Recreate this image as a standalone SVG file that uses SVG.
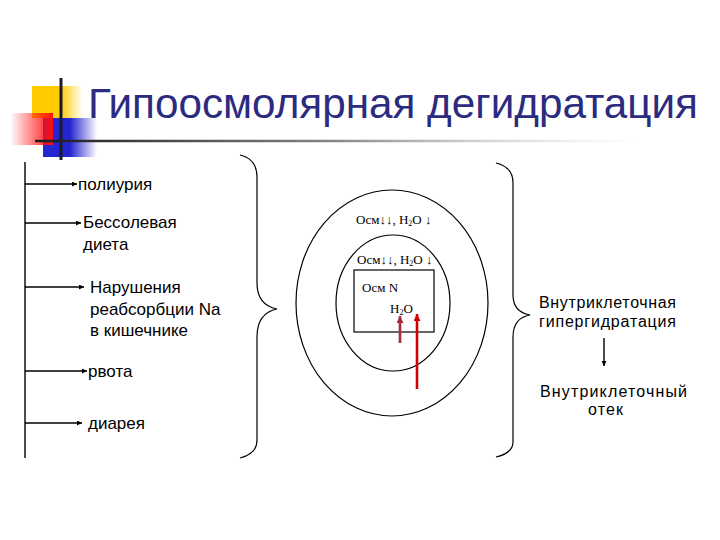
<svg xmlns="http://www.w3.org/2000/svg" width="720" height="540" viewBox="0 0 720 540">
<defs>
<style>
.t{font-family:"Liberation Sans","DejaVu Sans",sans-serif;fill:#000;}
.c{font-size:17px;}
.r{font-size:16px;}
.s{font-family:"Liberation Serif","DejaVu Serif",serif;font-size:13px;fill:#000;}
.ln{stroke:#000;stroke-width:1.4;fill:none;}
.br{stroke:#000;stroke-width:1.2;fill:none;}
</style>
<linearGradient id="gy" x1="32" y1="0" x2="83" y2="0" gradientUnits="userSpaceOnUse">
<stop offset="0" stop-color="#ffcc00"/><stop offset="0.55" stop-color="#ffcc00"/><stop offset="1" stop-color="#ffcc00" stop-opacity="0"/>
</linearGradient>
<linearGradient id="gr" x1="53" y1="0" x2="10" y2="0" gradientUnits="userSpaceOnUse">
<stop offset="0" stop-color="#ff1010"/><stop offset="1" stop-color="#ff1010" stop-opacity="0"/>
</linearGradient>
<linearGradient id="gb" x1="43" y1="0" x2="97" y2="0" gradientUnits="userSpaceOnUse">
<stop offset="0" stop-color="#2626d0"/><stop offset="0.5" stop-color="#2626d0"/><stop offset="1" stop-color="#2626d0" stop-opacity="0"/>
</linearGradient>
<linearGradient id="gl" x1="35" y1="0" x2="640" y2="0" gradientUnits="userSpaceOnUse">
<stop offset="0" stop-color="#1a1a1a"/><stop offset="0.5" stop-color="#888"/><stop offset="1" stop-color="#ccc" stop-opacity="0"/>
</linearGradient>
<marker id="ab" viewBox="0 0 10 10" refX="10" refY="5" markerWidth="6" markerHeight="5" markerUnits="userSpaceOnUse" orient="auto">
<path d="M0,0 L10,5 L0,10 z" fill="#000"/>
</marker>
<marker id="ar1" viewBox="0 0 10 10" refX="10" refY="5" markerWidth="8" markerHeight="7" markerUnits="userSpaceOnUse" orient="auto">
<path d="M0,0 L10,5 L0,10 z" fill="#a8283c"/>
</marker>
<marker id="ar2" viewBox="0 0 10 10" refX="10" refY="5" markerWidth="8" markerHeight="7" markerUnits="userSpaceOnUse" orient="auto">
<path d="M0,0 L10,5 L0,10 z" fill="#d40000"/>
</marker>
</defs>
<rect width="720" height="540" fill="#fff"/>

<g id="decor">
<rect x="32" y="86" width="51" height="32" fill="url(#gy)"/>
<rect x="43" y="118" width="54" height="39" fill="url(#gb)"/>
<rect x="10" y="113" width="43" height="32" fill="url(#gr)"/>
<line x1="61" y1="78" x2="61" y2="160" stroke="#1a1a2e" stroke-width="3"/>
<line x1="35" y1="141" x2="640" y2="141" stroke="url(#gl)" stroke-width="2.5"/>
</g>

<g id="title">
<text x="88" y="118" class="t" style="font-size:42px;fill:#2b2b80" textLength="610" lengthAdjust="spacingAndGlyphs">Гипоосмолярная дегидратация</text>
</g>

<g id="causes">
<g id="n-poliuria"><text x="78" y="190" class="t c">полиурия</text></g>
<g id="n-diet"><text x="83" y="228" class="t c">Бессолевая</text><text x="83" y="250" class="t c">диета</text></g>
<g id="n-reabs"><text x="90" y="293" class="t c">Нарушения</text><text x="90" y="315" class="t c">реабсорбции Na</text><text x="90" y="336" class="t c">в кишечнике</text></g>
<g id="n-vomit"><text x="88" y="377" class="t c">рвота</text></g>
<g id="n-diarr"><text x="88" y="429" class="t c">диарея</text></g>
</g>

<g id="cell">
<ellipse cx="392" cy="303" rx="96" ry="113" class="br"/>
<ellipse cx="393" cy="303" rx="57" ry="68" class="br"/>
<rect x="354" y="270" width="80" height="62" class="br"/>
<text x="356" y="224" class="s">Осм↓↓, H<tspan font-size="8" dy="2">2</tspan><tspan dy="-2">O ↓</tspan></text>
<text x="357" y="264" class="s">Осм↓↓, H<tspan font-size="8" dy="2">2</tspan><tspan dy="-2">O ↓</tspan></text>
<text x="362" y="292" class="s">Осм N</text>
<text x="390" y="313" class="s">H<tspan font-size="8" dy="2">2</tspan><tspan dy="-2">O</tspan></text>
</g>

<g id="braces">
<path class="br" d="M240,155 Q257,159 257,177 L257,283 Q257,305 277,309 Q257,313 257,337 L257,440 Q257,454 240,458"/>
<path class="br" d="M496,163 Q513,167 513,183 L513,295 Q513,312 530,315 Q513,318 513,337 L513,442 Q513,453 496,457"/>
</g>

<g id="result">
<g id="n-hyper"><text x="539" y="308" class="t r" textLength="137">Внутриклеточная</text><text x="539" y="327" class="t r" textLength="137">гипергидратация</text></g>
<g id="n-edema"><text x="540" y="397" class="t r" textLength="147">Внутриклеточный</text><text x="588" y="415" class="t r" textLength="35">отек</text></g>
</g>

<g id="connectors">
<line x1="25" y1="162" x2="25" y2="458" class="ln"/>
<line x1="25" y1="184" x2="77" y2="184" class="ln" marker-end="url(#ab)"/>
<line x1="25" y1="223" x2="81" y2="223" class="ln" marker-end="url(#ab)"/>
<line x1="25" y1="287" x2="84" y2="287" class="ln" marker-end="url(#ab)"/>
<line x1="25" y1="371" x2="87" y2="371" class="ln" marker-end="url(#ab)"/>
<line x1="25" y1="423" x2="82" y2="423" class="ln" marker-end="url(#ab)"/>
<line x1="604" y1="338" x2="604" y2="366" class="ln" stroke-width="1.6" marker-end="url(#ab)"/>
<line x1="400" y1="343" x2="400" y2="316" stroke="#a8283c" stroke-width="2.6" marker-end="url(#ar1)"/>
<line x1="417" y1="389" x2="417" y2="314" stroke="#d40000" stroke-width="2.6" marker-end="url(#ar2)"/>
</g>
</svg>
